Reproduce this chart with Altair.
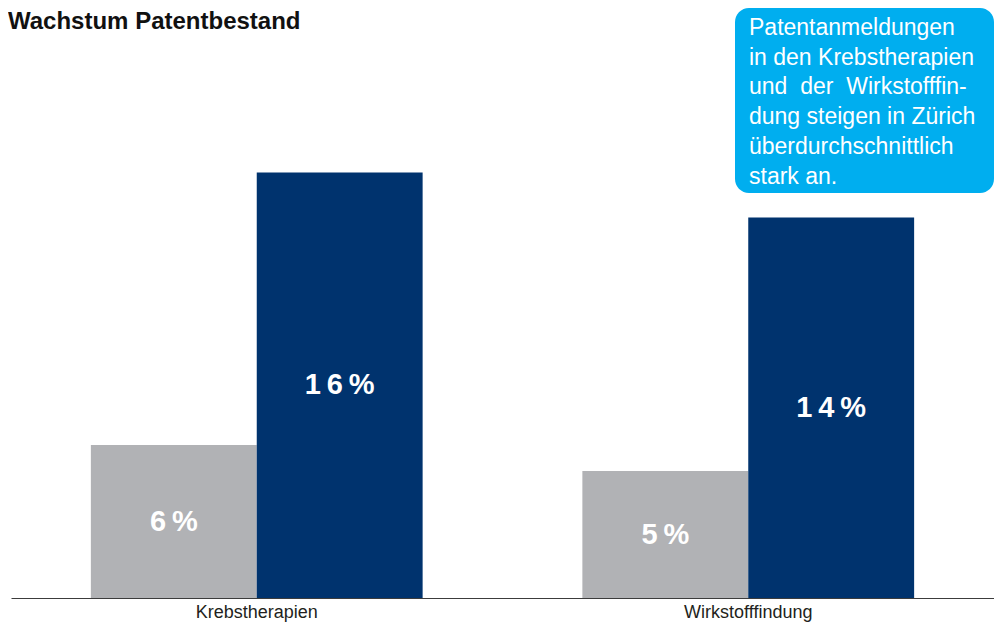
import altair as alt
import pandas as pd

title_text = "Wachstum Patentbestand"
categories = ["Krebstherapien", "Wirkstofffindung"]
series = ["Vergleich", "Zürich"]
gray_values = [5.75, 4.77]
navy_values = [16.0, 14.3]
box_lines = [
    "Patentanmeldungen",
    "in den Krebstherapien",
    "und\u00a0\u00a0der\u00a0\u00a0Wirkstofffin-",
    "dung steigen in Zürich",
    "überdurchschnittlich",
    "\u00a0stark an.",
]

GRAY = "#B1B2B5"
NAVY = "#00336E"
CYAN = "#00AEEF"
FONT = "Liberation Sans"
THIN = "\u2009"

rows = []
for i, c in enumerate(categories):
    for s, v in zip(series, [gray_values[i], navy_values[i]]):
        txt = THIN.join(list(f"{round(v)}%"))
        rows.append({"category": c, "series": s, "value": v,
                     "mid": v / 2, "label": txt})
df = pd.DataFrame(rows)

base = alt.Chart(df).encode(
    x=alt.X("category:N", sort=categories,
            scale=alt.Scale(paddingInner=0.325, paddingOuter=0.1625),
            axis=alt.Axis(title=None, labelAngle=0, labelFontSize=18,
                          labelColor="#231f20", labelFont=FONT, ticks=False,
                          domainColor="#3c3c3c", domainWidth=1.2,
                          labelPadding=5)),
    xOffset=alt.XOffset("series:N", sort=series,
                        scale=alt.Scale(paddingInner=0, paddingOuter=0)),
)

bars = base.mark_bar().encode(
    y=alt.Y("value:Q", scale=alt.Scale(domain=[0, 22.18], nice=False, zero=True),
            axis=None),
    color=alt.Color("series:N", scale=alt.Scale(domain=series, range=[GRAY, NAVY]),
                    legend=None),
)

labels = base.mark_text(fontSize=29, fontWeight="bold", color="white",
                        font=FONT, baseline="middle").encode(
    y=alt.Y("mid:Q"),
    text="label:N",
)

one = pd.DataFrame({"k": [0]})

box = alt.Chart(one).mark_rect(color=CYAN, cornerRadius=14).encode(
    x=alt.value(724), x2=alt.value(983), y=alt.value(0), y2=alt.value(185)
)

box_text = alt.Chart(one).mark_text(
    align="left", baseline="top", fontSize=23, lineHeight=29.7,
    color="white", font=FONT
).encode(x=alt.value(738), y=alt.value(9), text=alt.value(box_lines))

title = alt.Chart(one).mark_text(
    align="left", baseline="top", fontSize=24, fontWeight="bold",
    color="#111111", font=FONT
).encode(x=alt.value(-3), y=alt.value(2), text=alt.value(title_text))

chart = alt.layer(bars, labels, box, box_text, title).properties(
    width=983, height=590,
    padding={"left": 3, "top": 0, "right": 0, "bottom": 25},
    autosize=alt.AutoSizeParams(type="none"),
).configure_view(stroke=None)

chart.save("out.html", embed_options={"renderer": "svg", "actions": False})
